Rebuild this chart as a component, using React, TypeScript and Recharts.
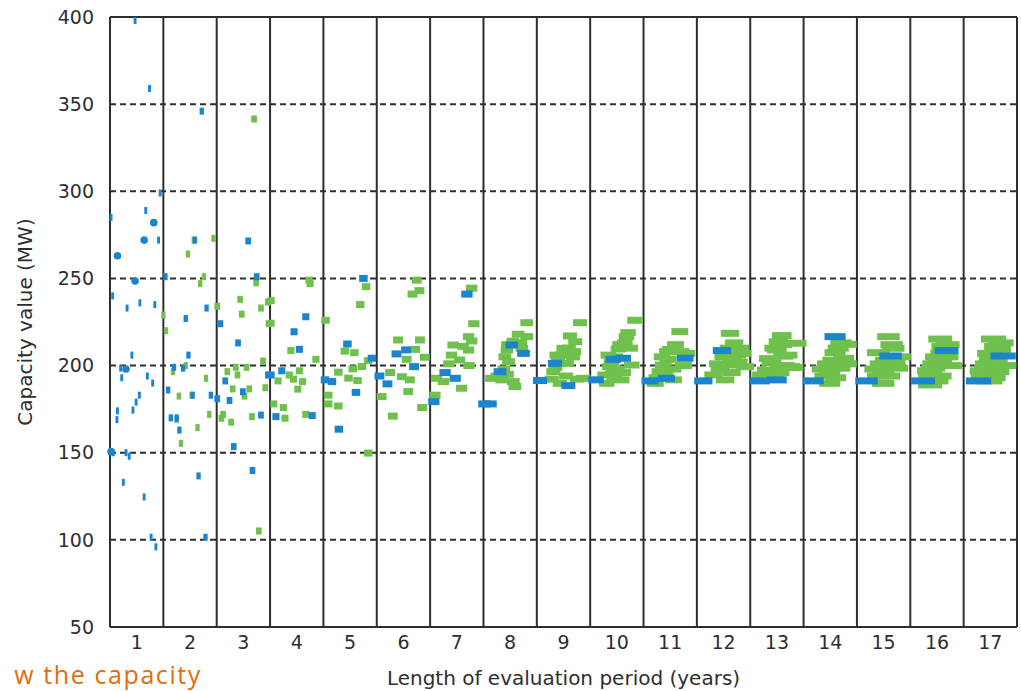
import React from "react";
import {
  CartesianGrid,
  ReferenceLine,
  Scatter,
  ScatterChart,
  XAxis,
  YAxis,
} from "recharts";

type Pt = [number, number];

// evaluation period lengths (years) and capacity ticks (MW)
const years = [1, 2, 3, 4, 5, 6, 7, 8, 9, 10, 11, 12, 13, 14, 15, 16, 17];
const capacityTicks = [50, 100, 150, 200, 250, 300, 350, 400];

// blue marks: [x position inside the year column, capacity value]
const blueMarks: Pt[] = [
  [0.97, 398], [1.24, 359], [1.44, 299], [1.17, 289], [0.52, 285], [1.41, 272],
  [0.55, 240], [0.82, 233], [1.06, 236], [1.34, 235], [0.91, 206], [0.7, 198.5],
  [0.72, 193], [1.2, 194], [1.3, 190], [1.05, 183], [0.99, 179], [0.93, 174.5],
  [0.64, 174], [0.63, 169], [0.56, 150], [0.8, 150], [0.86, 148], [0.75, 133],
  [1.14, 124.6], [1.27, 101.5], [1.36, 96],
  [2.22, 346], [2.09, 272], [1.54, 251], [1.92, 227], [2.31, 233], [1.97, 206],
  [1.7, 199], [1.87, 198.5], [1.59, 186], [2.05, 183], [2.39, 183], [1.64, 170],
  [1.75, 170], [1.8, 163], [2.16, 136.7], [2.29, 101.5],
  [3.09, 271.5], [3.25, 251], [2.57, 224], [2.9, 213], [2.66, 191.2], [2.99, 185],
  [2.51, 181], [2.74, 180], [3.33, 171.6], [2.82, 153.5], [3.17, 139.8], [3.46, 194.6],
  [4.17, 228], [3.95, 219.4], [4.05, 209.3], [3.52, 194.6], [3.72, 197], [3.61, 170.7],
  [4.29, 171.3],
  [5.25, 250], [4.95, 212.4], [5.41, 204.2], [4.53, 191.8], [4.66, 190.8], [5.11, 184.6],
  [4.79, 163.5],
  [5.87, 206.7], [6.05, 209], [6.2, 199.4], [5.55, 194], [5.7, 189.5],
  [7.19, 241], [6.78, 196], [6.97, 192.7], [6.57, 179.3],
  [8.03, 211.8], [8.25, 207], [7.81, 196.5], [7.52, 178], [7.63, 178],
  [8.84, 201.3], [8.56, 191.4], [9.09, 188.5],
  [10.12, 204.2], [9.93, 203.6], [9.61, 191.8],
  [11.28, 204.2], [10.93, 192.7], [10.62, 191.2],
  [11.97, 208.6], [11.62, 191.2],
  [12.68, 191.2], [13.0, 191.8],
  [14.09, 216.6], [13.68, 191.2],
  [15.13, 205.5], [14.68, 191.2],
  [16.18, 208.6], [15.74, 191.2],
  [17.24, 205.5], [16.78, 191.2],
];

// larger round blue markers in the first column
const blueDots: Pt[] = [
  [1.32, 282], [1.14, 272], [0.64, 263], [0.97, 248.5], [0.8, 198], [0.52, 150.6],
];

const greenMarks: Pt[] = [
  [2.07, 272], [2.44, 273], [1.96, 264], [2.26, 251], [2.19, 247], [1.5, 229],
  [1.55, 220], [1.68, 196.5], [1.92, 200], [2.3, 192.7], [1.79, 182.5], [2.03, 183],
  [2.36, 172], [1.75, 169], [2.14, 164.4], [1.83, 155.4],
  [3.2, 341.5], [3.24, 247.5], [2.51, 234], [2.94, 238], [2.97, 229.5], [3.33, 233],
  [3.46, 236.5], [3.47, 224], [3.37, 202.6], [3.06, 199], [2.7, 196.5], [2.86, 199],
  [2.89, 194.6], [2.8, 186.6], [3.02, 182.5], [3.11, 186.6], [3.41, 187.3], [2.62, 172],
  [2.59, 169.8], [2.77, 167.5], [3.16, 170.7], [3.29, 105.1],
  [4.23, 249], [4.25, 247], [3.52, 237.3], [3.52, 224.3], [3.89, 208.6], [4.36, 203.6],
  [3.86, 194.6], [4.05, 197], [3.65, 191.2], [4.11, 190.8], [3.94, 192.2], [4.02, 186.5],
  [3.57, 178], [3.75, 175.9], [3.78, 169.8], [4.17, 172],
  [5.3, 245.3], [5.19, 235], [4.54, 226], [4.9, 208.3], [5.08, 207.4], [5.34, 202.8],
  [5.22, 199.4], [5.05, 198.1], [4.78, 196.2], [4.97, 192.8], [5.14, 191.4], [4.59, 183],
  [4.59, 178], [4.78, 176.8], [5.34, 149.8],
  [6.25, 249], [6.3, 243], [6.17, 241], [5.9, 214.7], [6.31, 214.7], [6.22, 209.3],
  [6.06, 203.6], [6.4, 204.8], [5.75, 196], [5.97, 193.6], [6.12, 191.8], [6.09, 185.1],
  [5.59, 182.2], [6.35, 175.9], [5.8, 171],
  [7.28, 244.4], [7.32, 224], [7.22, 216.6], [7.28, 214.1], [6.93, 211.8], [7.22, 208.9],
  [6.9, 206], [7.05, 203.2], [7.23, 200], [6.62, 192.7], [6.75, 190.8], [7.09, 187],
  [6.59, 183], [6.85, 201], [7.12, 211],
  [8.31, 224.6], [8.15, 218], [8.31, 216.6], [8.22, 209.9], [7.94, 208.9], [7.9, 205],
  [7.97, 202.2], [7.65, 192.7], [7.84, 191.8], [8.06, 190.8], [8.09, 188],
  [7.88, 198], [7.95, 212], [8.05, 214], [8.2, 213], [7.75, 194], [7.95, 195],
  [9.31, 224.6], [9.12, 217], [9.22, 213.7], [9.0, 209.9], [9.18, 205], [8.87, 206],
  [9.06, 201.3], [8.81, 196.5], [8.78, 192.2], [9.25, 192.2], [8.93, 189.8], [9.37, 192.7],
  [8.9, 203], [8.97, 206], [9.1, 210], [9.2, 208], [8.85, 199], [9.05, 194],
  [10.34, 226], [10.21, 218.9], [10.18, 216.6], [10.03, 209.5], [10.28, 200.3], [9.84, 206],
  [9.87, 199.4], [9.93, 195.6], [9.78, 194.6], [10.09, 191.8], [9.81, 189.8],
  [9.9, 202], [9.97, 205], [10.06, 212], [10.15, 213], [10.25, 210], [10.0, 198],
  [10.12, 196], [9.95, 192],
  [11.18, 219.5], [11.0, 209.3], [11.31, 207], [10.96, 203.6], [10.87, 200.3], [10.81, 196.5],
  [10.75, 193], [11.06, 191.8], [10.72, 189.8],
  [10.85, 205], [10.95, 208], [11.1, 212], [11.2, 208], [11.25, 200], [11.05, 198], [10.9, 195],
  [12.12, 218.5], [12.31, 210], [12.25, 206], [12.16, 203.2], [12.06, 200.3], [11.93, 197.4],
  [11.81, 194.6], [12.03, 191.8], [12.4, 199.4],
  [12.0, 205], [12.1, 210], [12.2, 213], [12.35, 207], [11.9, 201], [12.15, 196], [12.28, 202],
  [13.09, 217.2], [13.03, 213.7], [13.0, 208.9], [13.12, 205.4], [12.9, 201.6], [12.81, 197.4],
  [12.72, 194.6], [13.25, 199.4], [13.37, 212.8], [13.31, 198.9],
  [12.95, 210], [13.1, 212], [13.2, 206], [12.85, 204], [13.15, 200], [13.05, 196], [12.95, 194],
  [14.3, 212.2], [14.09, 207.4], [14.25, 204.2], [14.18, 198.5], [13.99, 196.5], [13.9, 194],
  [13.99, 189.8],
  [13.95, 201], [14.05, 203], [14.15, 210], [14.2, 213], [13.85, 198], [14.1, 193], [14.3, 201],
  [15.09, 216.6], [15.18, 209.9], [14.9, 207.4], [15.25, 198.5], [14.99, 196.5], [14.9, 194],
  [14.99, 189.8],
  [14.95, 201], [15.05, 203], [15.15, 212], [15.1, 194], [14.85, 198], [15.3, 205], [15.2, 202],
  [16.06, 215.2], [16.12, 210.9], [16.18, 205], [16.06, 202.2], [15.93, 198.5], [15.87, 194.6],
  [15.99, 191.2], [15.87, 188.9],
  [15.95, 201], [16.0, 205], [16.1, 207], [16.2, 212], [15.85, 197], [16.05, 194], [16.25, 200],
  [17.06, 215.2], [17.15, 209.3], [16.99, 207], [17.09, 202.2], [16.93, 198.5], [16.87, 194.6],
  [16.99, 191.2], [17.12, 196.5],
  [16.95, 201], [17.02, 204], [17.12, 211], [17.2, 213], [16.85, 197], [17.05, 193], [17.25, 200],
];

const BLUE = "#1b84cf";
const GREEN = "#6fc04c";
const INK = "#2e2e2e";

const toRows = (pts: Pt[]) => pts.map(([x, y]) => ({ x, y }));

// marks get wider as the evaluation period gets longer
const barMark = (fill: string) => (props: any) => {
  const { cx, cy, payload } = props;
  const n = Math.round(payload.x);
  const w = 1.4 * n + 1.5;
  const h = 7;
  return <rect x={cx - w / 2} y={cy - h / 2} width={w} height={h} fill={fill} />;
};

const dotMark = (props: any) => (
  <circle cx={props.cx} cy={props.cy} r={3.8} fill={BLUE} />
);

export default function App() {
  return (
    <div
      style={{
        position: "absolute",
        left: 0,
        top: 0,
        width: 1021,
        height: 691,
        background: "#fff",
        overflow: "hidden",
      }}
    >
      <ScatterChart
        width={1021}
        height={691}
        margin={{ top: 17, right: 4, bottom: 0, left: 0 }}
        style={{ fontFamily: "DejaVu Sans" }}
      >
        <CartesianGrid
          vertical={false}
          stroke={INK}
          strokeWidth={2}
          strokeDasharray="6 4"
        />
        <XAxis
          type="number"
          dataKey="x"
          domain={[0.5, 17.5]}
          ticks={years}
          interval={0}
          height={64}
          tickLine={false}
          tickSize={6}
          tickMargin={3}
          axisLine={{ stroke: INK, strokeWidth: 2 }}
          tick={{ fontSize: 19, fill: INK }}
          label={{
            value: "Length of evaluation period (years)",
            position: "insideBottom",
            offset: 6,
            fontSize: 20,
            fill: INK,
          }}
        />
        <YAxis
          type="number"
          dataKey="y"
          domain={[50, 400]}
          ticks={capacityTicks}
          interval={0}
          width={110}
          tickLine={false}
          tickSize={6}
          tickMargin={10}
          axisLine={{ stroke: INK, strokeWidth: 2 }}
          tick={{ fontSize: 19, fill: INK }}
        />
        {years.slice(1).map((yr) => (
          <ReferenceLine key={yr} x={yr - 0.5} stroke={INK} strokeWidth={2} />
        ))}
        <ReferenceLine x={17.5} stroke={INK} strokeWidth={2} />
        <ReferenceLine y={400} stroke={INK} strokeWidth={2} />
        <Scatter
          data={toRows(greenMarks)}
          shape={barMark(GREEN)}
          isAnimationActive={false}
        />
        <Scatter
          data={toRows(blueMarks)}
          shape={barMark(BLUE)}
          isAnimationActive={false}
        />
        <Scatter data={toRows(blueDots)} shape={dotMark} isAnimationActive={false} />
      </ScatterChart>
      <svg
        width={1021}
        height={691}
        style={{ position: "absolute", left: 0, top: 0, pointerEvents: "none" }}
      >
        <text
          transform="translate(32, 322) rotate(-90)"
          textAnchor="middle"
          fontFamily="DejaVu Sans"
          fontSize={20}
          fill={INK}
        >
          Capacity value (MW)
        </text>
        <text
          x={202}
          y={683.5}
          textAnchor="end"
          fontFamily="Open Sans"
          fontSize={25}
          letterSpacing={1.6}
          fill="#e46c0a"
        >
          w the capacity
        </text>
      </svg>
    </div>
  );
}
